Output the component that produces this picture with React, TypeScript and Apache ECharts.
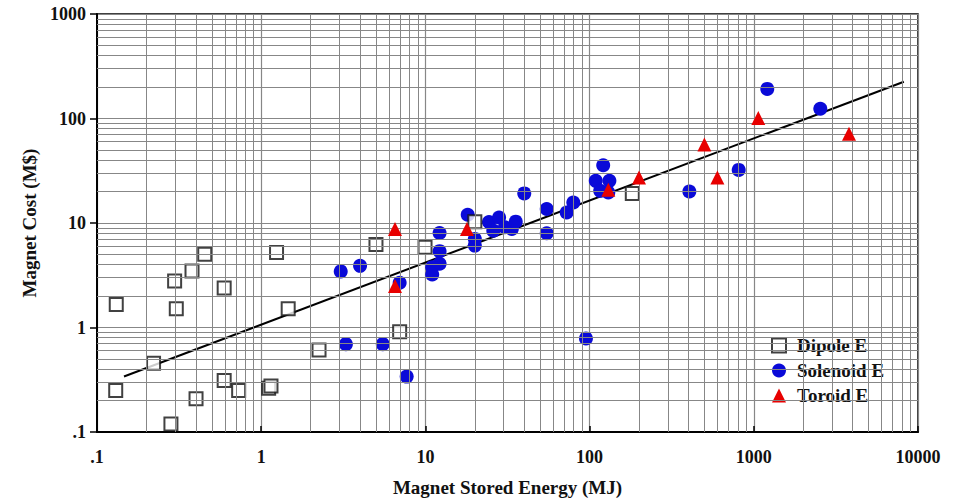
import React, { useEffect, useRef } from "react";
import * as echarts from "echarts";

// ---- data ----
const dipole: number[][] = [
  [0.131, 1.66], [0.13, 0.249], [0.221, 0.454], [0.297, 2.78], [0.304, 1.51],
  [0.282, 0.119], [0.379, 3.47], [0.453, 5.03], [0.401, 0.208], [0.595, 2.39],
  [0.595, 0.311], [0.729, 0.249], [1.11, 0.262], [1.147, 0.276], [1.24, 5.21],
  [1.46, 1.51], [2.25, 0.608], [5.0, 6.21], [6.97, 0.91], [9.95, 5.87],
  [20.0, 10.3], [182, 19.2],
];
const solenoid: number[][] = [
  [3.05, 3.44], [4.0, 3.89], [3.28, 0.693], [5.5, 0.693], [7.69, 0.339],
  [6.97, 2.68], [12.2, 8.03], [12.2, 5.38], [12.2, 4.07], [11.0, 3.78],
  [11.0, 3.22], [18.1, 12.0], [20, 7.04], [20, 6.08], [24.4, 10.2],
  [28.1, 11.3], [25.9, 8.45], [30.5, 9.1], [33.6, 8.77], [35.5, 10.3],
  [40, 19.2], [54.8, 13.6], [54.8, 7.98], [72.5, 12.6], [79.6, 15.7],
  [95, 0.786], [121, 35.7], [109, 25.3], [132, 25.3], [116, 20.3],
  [130, 19.6], [405, 20.0], [809, 32.2], [1208, 192], [2541, 124],
];
const toroid: number[][] = [
  [6.53, 8.77], [6.53, 2.49], [17.9, 8.77], [130, 20.8], [200, 27.2],
  [500, 56.5], [600, 27.2], [1065, 101], [3800, 71.5],
];
const trendLine: number[][] = [[0.146, 0.34], [8200, 225]];

const seriesNames = ["Dipole E", "Solenoid E", "Toroid E"];
const xTickLabels = [".1", "1", "10", "100", "1000", "10000"];
const yTickLabels = [".1", "1", "10", "100", "1000"];
const xRange = [0.1, 10000];
const yRange = [0.1, 1000];
const gridMultipliers = [2, 3, 4, 5, 6, 7, 8, 9];

const FONT = "'Liberation Serif', 'Times New Roman', serif";

function minorValues(range: number[]): number[] {
  const out: number[] = [];
  for (let d = range[0]; d < range[1] * 0.999; d *= 10) {
    for (const m of gridMultipliers) out.push(Number((d * m).toPrecision(6)));
  }
  return out;
}

function tickIndex(v: number, min: number) {
  return Math.round(Math.log10(v)) - Math.round(Math.log10(min));
}

export default function App() {
  const ref = useRef<HTMLDivElement>(null);
  useEffect(() => {
    if (!ref.current) return;
    const chart = echarts.init(ref.current, undefined, { renderer: "svg" });
    const gridColor = "#878787";
    const markData = [
      ...minorValues(xRange).map((v) => ({ xAxis: v })),
      ...minorValues(yRange).map((v) => ({ yAxis: v })),
    ];
    chart.setOption({
      animation: false,
      backgroundColor: "#ffffff",
      grid: {
        left: 97,
        right: 36,
        top: 14,
        bottom: 68,
        show: true,
        borderColor: "#000",
        borderWidth: 1.5,
        backgroundColor: "transparent",
      },
      legend: {
        data: seriesNames,
        orient: "vertical",
        left: 766,
        top: 331,
        itemWidth: 14,
        itemHeight: 14,
        itemGap: 6,
        textStyle: {
          fontFamily: FONT,
          fontWeight: "bold",
          fontSize: 19,
          color: "#111",
          padding: [0, 0, 0, 6],
        },
      },
      xAxis: {
        type: "log",
        logBase: 10,
        min: xRange[0],
        max: xRange[1],
        name: "Magnet Stored Energy (MJ)",
        nameLocation: "middle",
        nameGap: 46,
        nameTextStyle: { fontFamily: FONT, fontWeight: "bold", fontSize: 19, color: "#111" },
        axisLine: { lineStyle: { color: "#000", width: 2 } },
        axisTick: { show: true, inside: true, length: 6, lineStyle: { color: "#000", width: 1.5 } },
        axisLabel: {
          fontFamily: FONT,
          fontWeight: "bold",
          fontSize: 18,
          color: "#111",
          margin: 16,
          formatter: (v: number) => xTickLabels[tickIndex(v, xRange[0])] ?? "",
        },
        splitLine: { show: true, lineStyle: { color: gridColor, width: 1.2 } },
      },
      yAxis: {
        type: "log",
        logBase: 10,
        min: yRange[0],
        max: yRange[1],
        name: "Magnet Cost (M$)",
        nameLocation: "middle",
        nameGap: 58,
        nameTextStyle: { fontFamily: FONT, fontWeight: "bold", fontSize: 19, color: "#111" },
        axisLine: { lineStyle: { color: "#000", width: 2 } },
        axisTick: { show: true, inside: false, length: 7, lineStyle: { color: "#000", width: 1.5 } },
        axisLabel: {
          fontFamily: FONT,
          fontWeight: "bold",
          fontSize: 18,
          color: "#111",
          margin: 11,
          formatter: (v: number) => yTickLabels[tickIndex(v, yRange[0])] ?? "",
        },
        splitLine: { show: true, lineStyle: { color: gridColor, width: 1.2 } },
      },
      series: [
        {
          name: "grid",
          type: "line",
          data: [],
          silent: true,
          z: 0,
          markLine: {
            silent: true,
            symbol: ["none", "none"],
            label: { show: false },
            lineStyle: { color: gridColor, width: 1, type: "solid" },
            data: markData,
          },
        },
        {
          name: "trend",
          type: "line",
          data: trendLine,
          showSymbol: false,
          symbol: "none",
          silent: true,
          z: 2,
          lineStyle: { color: "#000", width: 2 },
        },
        {
          name: seriesNames[0],
          type: "scatter",
          data: dipole,
          symbol: "rect",
          symbolSize: 13,
          z: 4,
          itemStyle: { color: "#ffffff", borderColor: "#111", borderWidth: 2 },
        },
        {
          name: seriesNames[1],
          type: "scatter",
          data: solenoid,
          symbol: "circle",
          symbolSize: 14,
          z: 3,
          itemStyle: { color: "#0a0ad8", opacity: 1 },
        },
        {
          name: seriesNames[2],
          type: "scatter",
          data: toroid,
          symbol: "triangle",
          symbolSize: 14,
          z: 5,
          itemStyle: { color: "#e80000", opacity: 1 },
        },
      ],
    });
    return () => chart.dispose();
  }, []);
  return (
    <div
      ref={ref}
      style={{ position: "fixed", left: 0, top: 0, width: 954, height: 502, background: "#fff" }}
    />
  );
}
